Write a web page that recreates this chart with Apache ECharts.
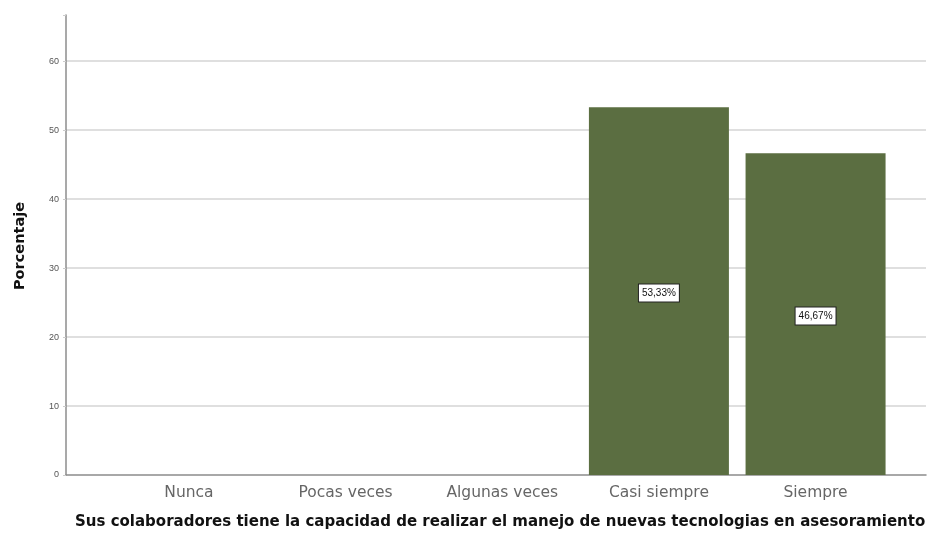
<!DOCTYPE html>
<html>
<head>
<meta charset="utf-8">
<script src="https://cdn.jsdelivr.net/npm/echarts@6/dist/echarts.min.js"></script>
<style>
  html, body { margin: 0; padding: 0; background: #ffffff; }
  #chart { width: 927px; height: 537px; }
</style>
</head>
<body>
<div id="chart"></div>
<script>
// Response categories and their percentages
const categories = ['Nunca', 'Pocas veces', 'Algunas veces', 'Casi siempre', 'Siempre'];
const percentages = [0, 0, 0, 53.33, 46.67];
const yTicks = [0, 10, 20, 30, 40, 50, 60];
const xTitle = 'Sus colaboradores tiene la capacidad de realizar el manejo de nuevas tecnologias en asesoramiento';
const yTitle = 'Porcentaje';

const barData = categories
  .map((c, i) => ({ value: [i, percentages[i]], name: c }))
  .filter(d => d.value[1] > 0);

const chart = echarts.init(document.getElementById('chart'), null, { renderer: 'canvas' });

chart.setOption({
  animation: false,
  backgroundColor: '#ffffff',
  grid: { left: 66, right: 1, top: 15, bottom: 62, containLabel: false },
  xAxis: {
    type: 'value',
    min: -0.785,
    max: categories.length - 0.295,
    axisLine: { show: true, onZero: false, lineStyle: { color: '#8c8c8c', width: 1.5 } },
    axisTick: { show: false },
    splitLine: { show: false },
    axisLabel: {
      customValues: categories.map((c, i) => i),
      formatter: v => categories[Math.round(v)] || '',
      color: '#666666',
      fontFamily: 'DejaVu Sans, sans-serif',
      fontSize: 15.5,
      margin: 10
    }
  },
  yAxis: {
    type: 'value',
    min: 0,
    max: 66.7,
    interval: 10,
    axisLine: { show: true, onZero: false, lineStyle: { color: '#8c8c8c', width: 1.5 } },
    axisTick: { show: true, length: 3, lineStyle: { color: '#cccccc' } },
    axisLabel: {
      customValues: yTicks,
      color: '#555555',
      fontFamily: 'Liberation Sans, Arial, sans-serif',
      fontSize: 9,
      margin: 7
    },
    splitLine: {
      show: true,
      showMinLine: false,
      showMaxLine: false,
      lineStyle: { color: '#d4d4d4', width: 1.5 }
    }
  },
  series: [{
    type: 'bar',
    data: barData,
    barWidth: 140,
    itemStyle: { color: '#5b6e41' },
    label: {
      show: true,
      position: 'inside',
      offset: [0, 2],
      formatter: p => p.value[1].toFixed(2).replace('.', ',') + '%',
      color: '#111111',
      fontFamily: 'Liberation Sans Narrow, Liberation Sans, Arial, sans-serif',
      fontSize: 10,
      backgroundColor: '#ffffff',
      borderColor: '#222222',
      borderWidth: 1,
      padding: [4, 3, 3, 3]
    }
  }],
  graphic: [{
    type: 'text',
    left: 75,
    top: 515,
    style: {
      text: xTitle,
      fill: '#111111',
      font: 'bold 15px "DejaVu Sans", sans-serif'
    }
  }, {
    type: 'text',
    x: 20,
    y: 246,
    rotation: Math.PI / 2,
    style: {
      text: yTitle,
      fill: '#111111',
      align: 'center',
      verticalAlign: 'middle',
      font: 'bold 14.5px "DejaVu Sans", sans-serif'
    }
  }]
});
</script>
</body>
</html>
